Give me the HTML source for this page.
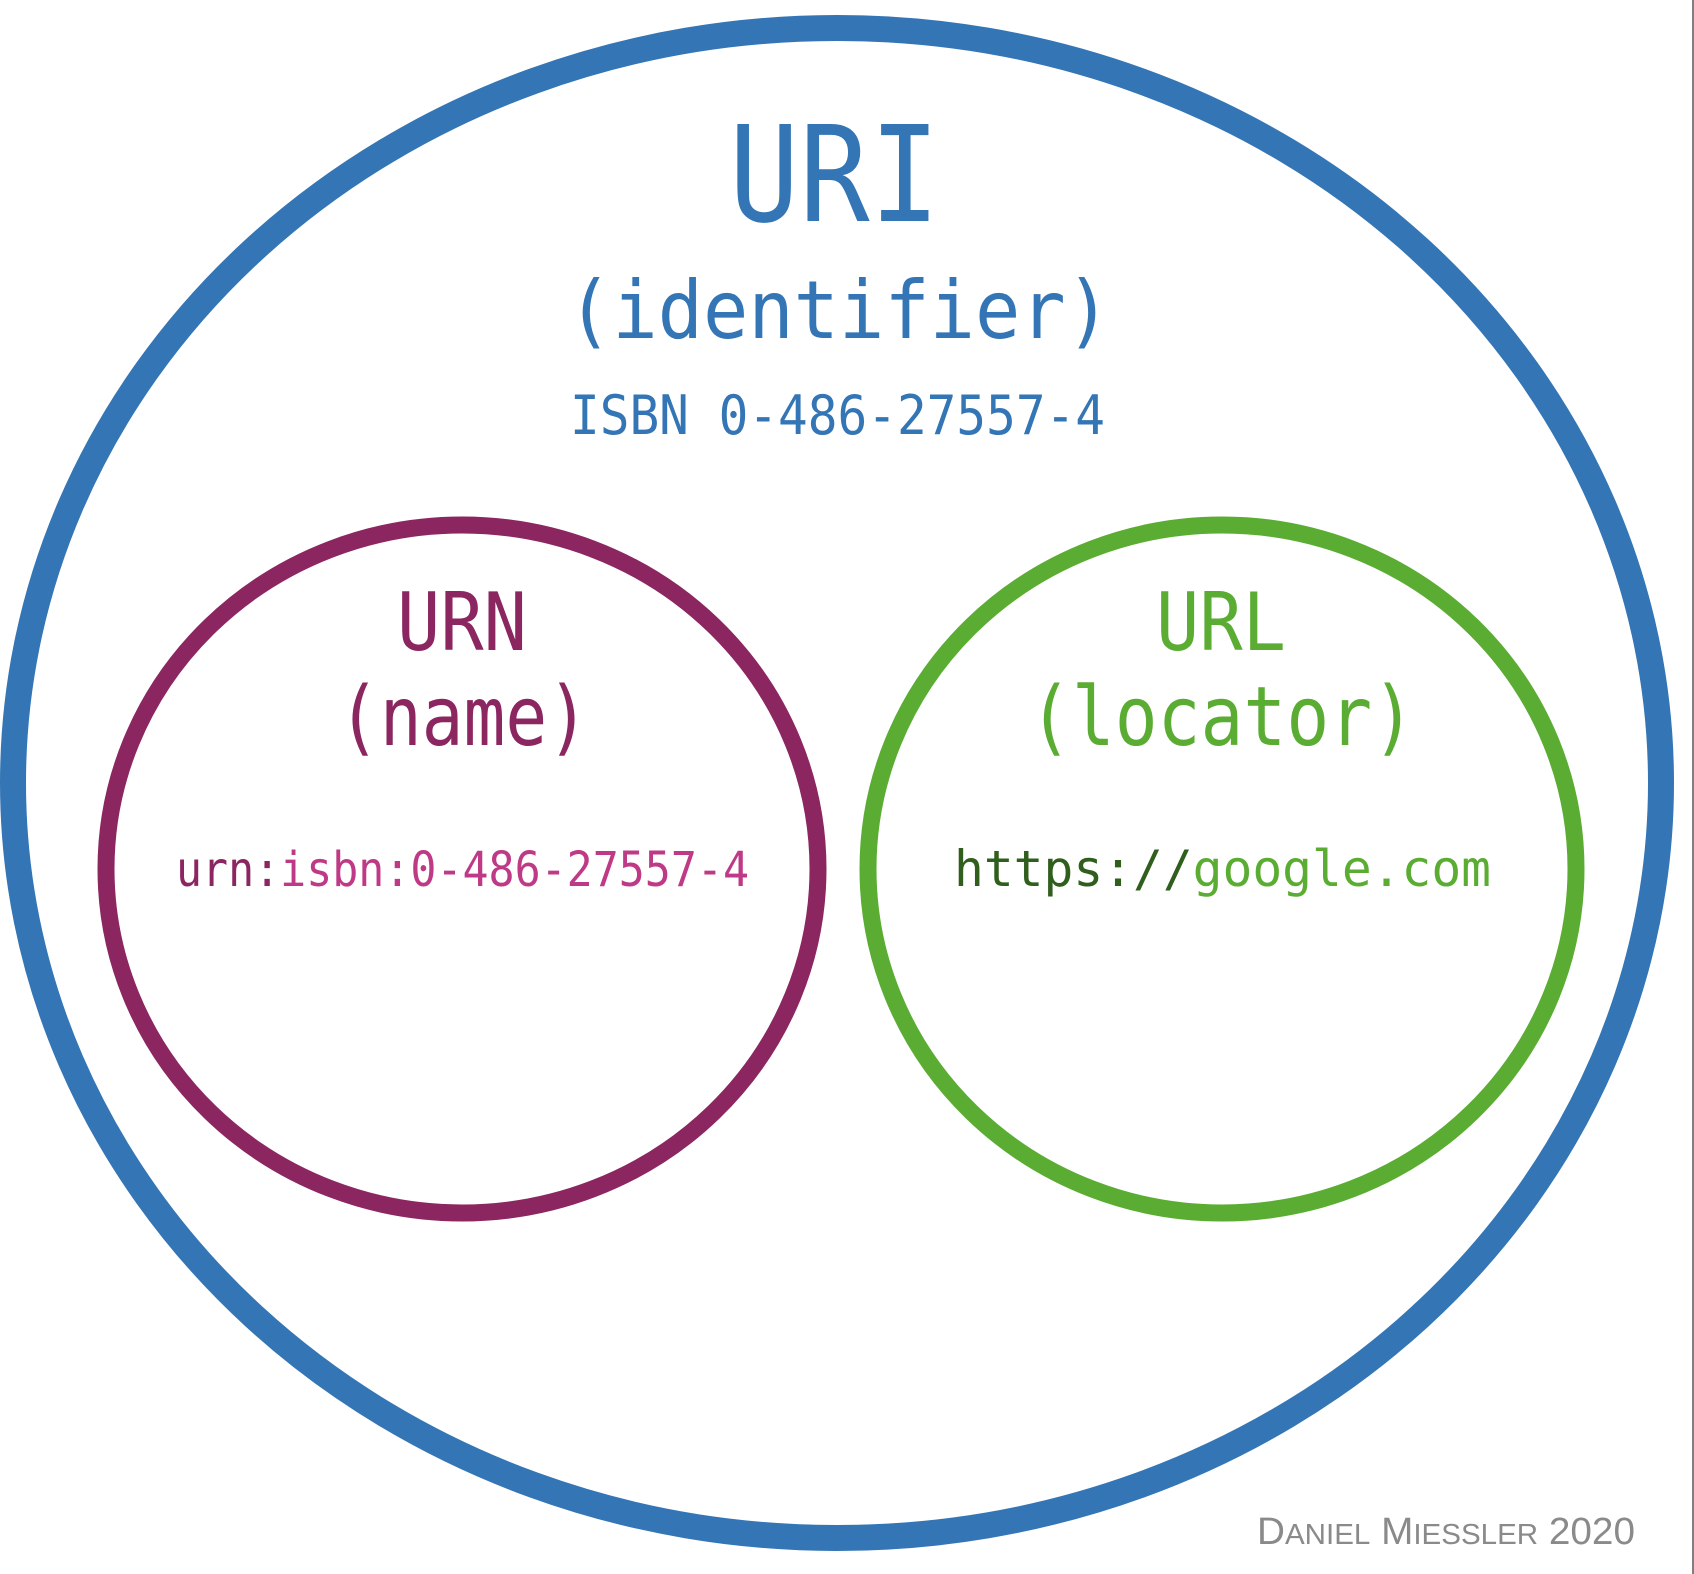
<!DOCTYPE html>
<html><head><meta charset="utf-8"><style>
html,body{margin:0;padding:0;background:#fff;}
svg{display:block;}
</style></head><body>
<svg width="1694" height="1574" viewBox="0 0 1694 1574" xmlns="http://www.w3.org/2000/svg">
<rect width="1694" height="1574" fill="#fff"/>
<line x1="1693" y1="0" x2="1693" y2="1574" stroke="#555" stroke-width="1.5"/>
<ellipse cx="837" cy="783" rx="824" ry="755" fill="none" stroke="#3375b5" stroke-width="26"/>
<ellipse cx="462" cy="869" rx="356" ry="344" fill="none" stroke="#8b2660" stroke-width="17"/>
<ellipse cx="1222" cy="869" rx="354" ry="344" fill="none" stroke="#5aad32" stroke-width="17"/>
<g font-family="'DejaVu Sans Mono','Liberation Mono',monospace">
<text x="729" y="221" font-size="133" fill="#3375b5" textLength="211" lengthAdjust="spacingAndGlyphs">URI</text>
<text x="567" y="338" font-size="80" fill="#3375b5" textLength="544" lengthAdjust="spacingAndGlyphs">(identifier)</text>
<text x="570" y="434" font-size="54" fill="#3375b5" textLength="535" lengthAdjust="spacingAndGlyphs">ISBN 0-486-27557-4</text>
<text x="397" y="650" font-size="80" fill="#8b2660" textLength="130" lengthAdjust="spacingAndGlyphs">URN</text>
<text x="338" y="745" font-size="82" fill="#8b2660" textLength="251" lengthAdjust="spacingAndGlyphs">(name)</text>
<text x="176" y="886" font-size="48" textLength="573" lengthAdjust="spacingAndGlyphs"><tspan fill="#8b2660">urn:</tspan><tspan fill="#bf3a86">isbn:0-486-27557-4</tspan></text>
<text x="1156" y="650" font-size="80" fill="#5aad32" textLength="130" lengthAdjust="spacingAndGlyphs">URL</text>
<text x="1029" y="745" font-size="82" fill="#5aad32" textLength="386" lengthAdjust="spacingAndGlyphs">(locator)</text>
<text x="954" y="886" font-size="50" textLength="537" lengthAdjust="spacingAndGlyphs"><tspan fill="#2f5e1d">https://</tspan><tspan fill="#5aad32">google.com</tspan></text>
</g>
<text x="1257" y="1544" font-family="'Liberation Sans',sans-serif" font-size="38" fill="#8a8a8a" textLength="378" lengthAdjust="spacingAndGlyphs">D<tspan font-size="29">ANIEL</tspan> M<tspan font-size="29">IESSLER</tspan> 2020</text>
</svg>
</body></html>
